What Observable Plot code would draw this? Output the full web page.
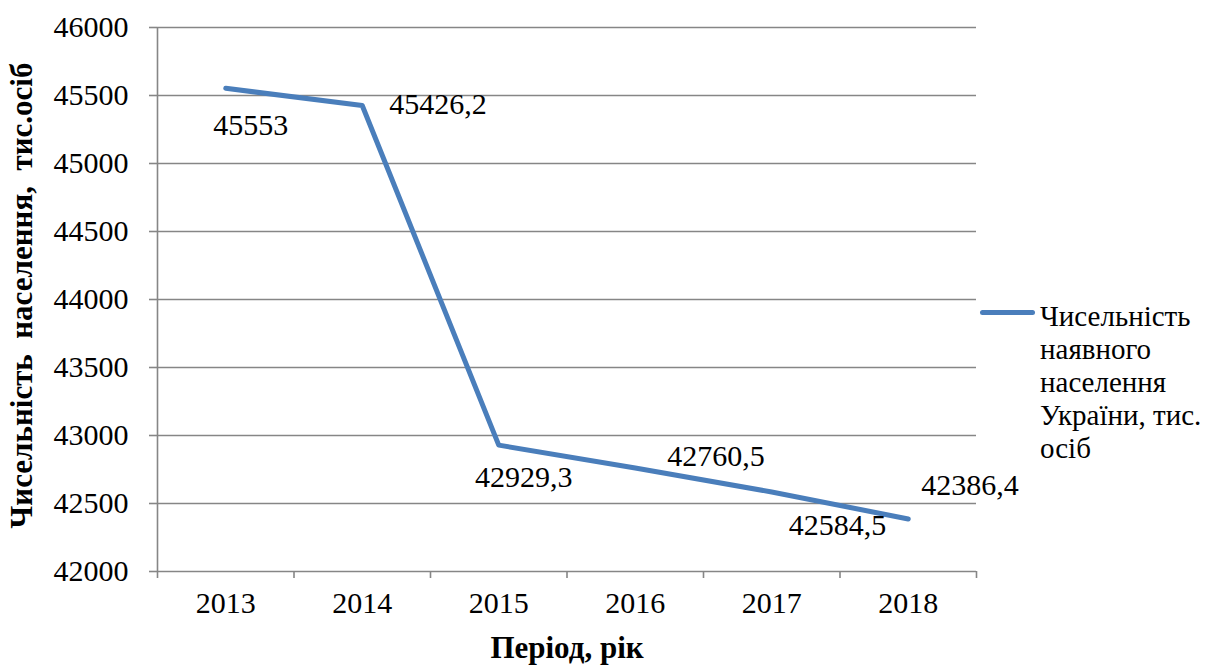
<!DOCTYPE html>
<html>
<head>
<meta charset="utf-8">
<script src="https://cdn.jsdelivr.net/npm/d3@7"></script>
<script src="https://cdn.jsdelivr.net/npm/@observablehq/plot@0.6"></script>
<style>
  html, body { margin: 0; padding: 0; background: #fff; overflow: hidden; }
  #wrap { position: relative; width: 1206px; height: 667px; overflow: hidden; font-family: 'Liberation Serif', 'DejaVu Serif', serif; }
  #wrap svg text { font-family: 'Liberation Serif', 'DejaVu Serif', serif; }
  #legend-line { position: absolute; left: 980px; top: 310px; width: 55px; height: 5px; border-radius: 3px; background: #4a7ebb; }
  #legend-text { position: absolute; left: 1040px; top: 300px; font-size: 29px; line-height: 33px; color: #000; white-space: nowrap; }
</style>
</head>
<body>
<div id="wrap"></div>
<script>
const years = [2013, 2014, 2015, 2016, 2017, 2018];
const population = [45553, 45426.2, 42929.3, 42760.5, 42584.5, 42386.4];
const yTicks = [42000, 42500, 43000, 43500, 44000, 44500, 45000, 45500, 46000];
const legendLines = ["Чисельність", "наявного", "населення", "України, тис.", "осіб"];
const xTitle = "Період, рік";
const yTitle = "Чисельність\u00a0 населення,\u00a0 тис.осіб";

const data = years.map((year, i) => ({year, value: population[i]}));
const boundaries = [years[0] - 0.5, ...years.map(y => y + 0.5)];
const fmt = v => String(v).replace(".", ",");

// per-label offsets (layout only), mimicking the original label placement
const labelLayout = [
  {dx: 25, dy: 37, anchor: "middle"},
  {dx: 27, dy: -1, anchor: "start"},
  {dx: 25, dy: 32, anchor: "middle"},
  {dx: 32, dy: -12, anchor: "start"},
  {dx: 17, dy: 33, anchor: "start"},
  {dx: 13, dy: -34, anchor: "start"}
];

const serif = "'Liberation Serif', 'DejaVu Serif', serif";
const gray = "#868686";
const blue = "#4a7ebb";

const chart = Plot.plot({
  width: 1206,
  height: 667,
  marginLeft: 157,
  marginRight: 230,
  marginTop: 27,
  marginBottom: 96,
  style: `font-family: ${serif}; background: #fff; color: #000;`,
  x: {type: "linear", domain: [boundaries[0], boundaries[boundaries.length - 1]]},
  y: {domain: [42000, 46000]},
  marks: [
    Plot.gridY(yTicks, {stroke: gray, strokeOpacity: 1, strokeWidth: 1.6}),
    Plot.ruleX([boundaries[0]], {stroke: gray, strokeWidth: 1.6}),
    Plot.axisY(yTicks, {tickSize: 8, tickPadding: 21, tickFormat: d => String(d), fontSize: 30, fontFamily: serif, stroke: gray, fill: "#000", strokeWidth: 1.6, label: null}),
    Plot.axisX(boundaries, {tickSize: 7, tickFormat: () => "", stroke: gray, strokeWidth: 1.6, label: null}),
    Plot.axisX(years, {tickSize: 0, tickPadding: 20, tickFormat: d => String(d), fontSize: 30, fontFamily: serif, fill: "#000", label: null}),
    Plot.line(data, {x: "year", y: "value", stroke: blue, strokeWidth: 5, strokeLinecap: "round", strokeLinejoin: "round"}),
    ...data.map((d, i) => Plot.text([d], {
      x: "year", y: "value", text: r => fmt(r.value),
      dx: labelLayout[i].dx, dy: labelLayout[i].dy, textAnchor: labelLayout[i].anchor,
      fontSize: 30, fontFamily: serif, fill: "#000"
    })),
    Plot.text([xTitle], {frameAnchor: "bottom", lineAnchor: "middle", dy: 77, fontSize: 31, fontWeight: "bold", fontFamily: serif, fill: "#000"}),
    Plot.text([yTitle], {frameAnchor: "left", dx: -135, dy: -4, rotate: -90, textAnchor: "middle", lineAnchor: "middle", fontSize: 31, fontWeight: "bold", fontFamily: serif, fill: "#000"})
  ]
});

const wrap = document.getElementById("wrap");
wrap.appendChild(chart);
const ll = document.createElement("div"); ll.id = "legend-line"; wrap.appendChild(ll);
const lt = document.createElement("div"); lt.id = "legend-text";
legendLines.forEach(t => { const d = document.createElement("div"); d.textContent = t; lt.appendChild(d); });
wrap.appendChild(lt);
</script>
</body>
</html>
